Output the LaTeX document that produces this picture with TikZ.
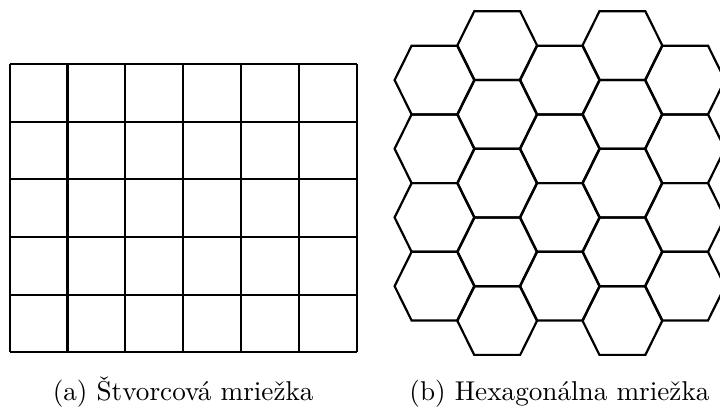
\documentclass[tikz,border=0pt]{standalone}
\usepackage{graphicx}
\begin{document}
\begin{tikzpicture}[x={(1pt,0)},y={(0,-1pt)},
  gridline/.style={line width=2.2pt,black},
  hexline/.style={line width=2.2pt,black,line join=miter},
  caption/.style={inner sep=0pt,anchor=base}]
\useasboundingbox (0,0) rectangle (720,412);
\clip (0,0) rectangle (720,412);
% square grid 6 x 5
\foreach \i in {0,...,6}
  \draw[gridline] ({9.7+57.83*\i},64) -- ({9.7+57.83*\i},352.3);
\foreach \j in {0,...,5}
  \draw[gridline] (9.7,{64+57.66*\j}) -- (356.7,{64+57.66*\j});
% hexagonal grid
\foreach \c in {0,2,4}
  \foreach \r in {0,...,3}
    \draw[hexline] ({434.6+62.6*\c-40},{80.05+68.7*\r})
      -- ++(17,-34.35) -- ++(46,0) -- ++(17,34.35)
      -- ++(-17,34.35) -- ++(-46,0) -- cycle;
\foreach \c in {1,3}
  \foreach \r in {0,...,4}
    \draw[hexline] ({434.6+62.6*\c-40},{45.7+68.7*\r})
      -- ++(17,-34.35) -- ++(46,0) -- ++(17,34.35)
      -- ++(-17,34.35) -- ++(-46,0) -- cycle;
% captions
\node[caption] (capa) at (183.2,400) {\scalebox{2.72}{(a) Štvorcová mriežka}};
\node[caption] (capb) at (559.5,400) {\scalebox{2.72}{(b) Hexagonálna mriežka}};
\end{tikzpicture}
\end{document}
